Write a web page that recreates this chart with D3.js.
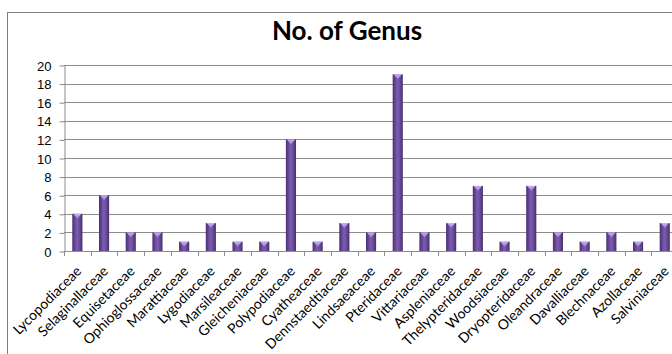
<!DOCTYPE html>
<html>
<head>
<meta charset="utf-8">
<script src="https://cdnjs.cloudflare.com/ajax/libs/d3/7.8.5/d3.min.js"></script>
<style>
  body { margin: 0; background: #fff; overflow: hidden; }
  svg { display: block; font-family: Lato, "Open Sans", sans-serif; }
</style>
</head>
<body>
<div id="chart"></div>
<script>
// families and genus counts
var families = ['Lycopodiaceae', 'Selaginallaceae', 'Equisetaceae', 'Ophioglossaceae', 'Marattiaceae',
    'Lygodiaceae', 'Marsileaceae', 'Gleicheniaceae', 'Polypodiaceae', 'Cyatheaceae', 'Dennstaedtiaceae',
    'Lindsaeaceae', 'Pteridaceae', 'Vittariaceae', 'Aspleniaceae', 'Thelypteridaceae', 'Woodsiaceae',
    'Dryopteridaceae', 'Oleandraceae', 'Davalliaceae', 'Blechnaceae', 'Azollaceae', 'Salviniaceae']
var genus = [4, 6, 2, 2, 1, 3, 1, 1, 12, 1, 3, 2, 19, 2, 3, 7, 1, 7, 2, 1, 2, 1, 3]
var yTicks = [0, 2, 4, 6, 8, 10, 12, 14, 16, 18, 20]

var W = 672, H = 354
var margin = { top: 65, left: 64 }
var band = 26.7
var plotBottom = 251

var svg = d3.select('#chart').append('svg')
    .attr('width', W)
    .attr('height', H)

// gradient for the bars (dark edges, lighter middle)
var defs = svg.append('defs')
var grad = defs.append('linearGradient').attr('id', 'barGrad')
    .attr('x1', '0%').attr('x2', '100%').attr('y1', '0%').attr('y2', '0%')
grad.append('stop').attr('offset', '0%').attr('stop-color', '#4a2f70')
grad.append('stop').attr('offset', '45%').attr('stop-color', '#7b5bb0')
grad.append('stop').attr('offset', '60%').attr('stop-color', '#7455a8')
grad.append('stop').attr('offset', '100%').attr('stop-color', '#48306c')

var capGrad = defs.append('linearGradient').attr('id', 'capGrad')
    .attr('x1', '0%').attr('x2', '0%').attr('y1', '0%').attr('y2', '100%')
capGrad.append('stop').attr('offset', '0%').attr('stop-color', '#c8b2ef')
capGrad.append('stop').attr('offset', '100%').attr('stop-color', '#9a7cd0')

// chart border (runs off the right and bottom, like the crop)
svg.append('rect')
    .attr('x', 7.5).attr('y', 12.5)
    .attr('width', W + 20).attr('height', H + 20)
    .attr('fill', 'none')
    .attr('stroke', '#7f7f7f')
    .attr('stroke-width', 1)

svg.append('text')
    .attr('x', 347).attr('y', 40)
    .attr('text-anchor', 'middle')
    .style('font-size', '26px')
    .style('font-weight', 'bold')
    .attr('fill', '#000')
    .text('No. of Genus')

var x = d3.scaleBand()
    .domain(families)
    .range([margin.left, margin.left + band * families.length])
    .paddingInner(0.62)
    .paddingOuter(0.31)

var y = d3.scaleLinear()
    .domain([0, 20])
    .range([plotBottom, margin.top])

// gridlines
svg.append('g')
    .selectAll('line')
    .data(yTicks.filter(function (d) { return d > 0 }))
    .enter().append('line')
    .attr('x1', margin.left).attr('x2', W)
    .attr('y1', function (d) { return Math.round(y(d)) + 0.5 })
    .attr('y2', function (d) { return Math.round(y(d)) + 0.5 })
    .attr('stroke', '#8c8c8c')
    .attr('stroke-width', 1)

// y axis
var yAxis = svg.append('g')
    .attr('transform', 'translate(' + (margin.left + 0.5) + ',0.5)')
    .call(d3.axisLeft(y).tickValues(yTicks).tickSize(5).tickSizeOuter(0).tickPadding(8))
yAxis.select('.domain').attr('stroke', '#8c8c8c')
yAxis.selectAll('.tick line').attr('stroke', '#8c8c8c')
yAxis.selectAll('.tick text')
    .style('font-size', '13px')
    .attr('fill', '#000')
    .attr('dy', '0.36em')

// bars
var bars = svg.append('g')
    .selectAll('g')
    .data(families)
    .enter().append('g')

bars.append('rect')
    .attr('x', function (d) { return x(d) })
    .attr('y', function (d, i) { return y(genus[i]) })
    .attr('width', x.bandwidth())
    .attr('height', function (d, i) { return plotBottom - y(genus[i]) })
    .attr('fill', 'url(#barGrad)')

bars.append('path')
    .attr('d', function (d, i) {
        var x0 = x(d), x1 = x(d) + x.bandwidth(), top = y(genus[i])
        return 'M' + (x0 + 1) + ',' + top + 'L' + (x1 - 1) + ',' + top +
            'L' + (x0 + x.bandwidth() / 2) + ',' + (top + 5) + 'Z'
    })
    .attr('fill', 'url(#capGrad)')

// x axis with ticks between categories
var xAxisG = svg.append('g')
xAxisG.append('line')
    .attr('x1', margin.left).attr('x2', W)
    .attr('y1', plotBottom + 0.5).attr('y2', plotBottom + 0.5)
    .attr('stroke', '#8c8c8c')
xAxisG.selectAll('.sep')
    .data(d3.range(families.length + 1))
    .enter().append('line')
    .attr('class', 'sep')
    .attr('x1', function (i) { return Math.round(margin.left + i * band) + 0.5 })
    .attr('x2', function (i) { return Math.round(margin.left + i * band) + 0.5 })
    .attr('y1', plotBottom)
    .attr('y2', plotBottom + 5)
    .attr('stroke', '#8c8c8c')

xAxisG.selectAll('.lab')
    .data(families)
    .enter().append('text')
    .attr('class', 'lab')
    .attr('text-anchor', 'end')
    .attr('transform', function (d) {
        var cx = x(d) + x.bandwidth() / 2 + 5
        return 'translate(' + cx + ',' + (plotBottom + 21) + ') rotate(-45)'
    })
    .style('font-size', '14px')
    .attr('fill', '#000')
    .text(function (d) { return d })
</script>
</body>
</html>
